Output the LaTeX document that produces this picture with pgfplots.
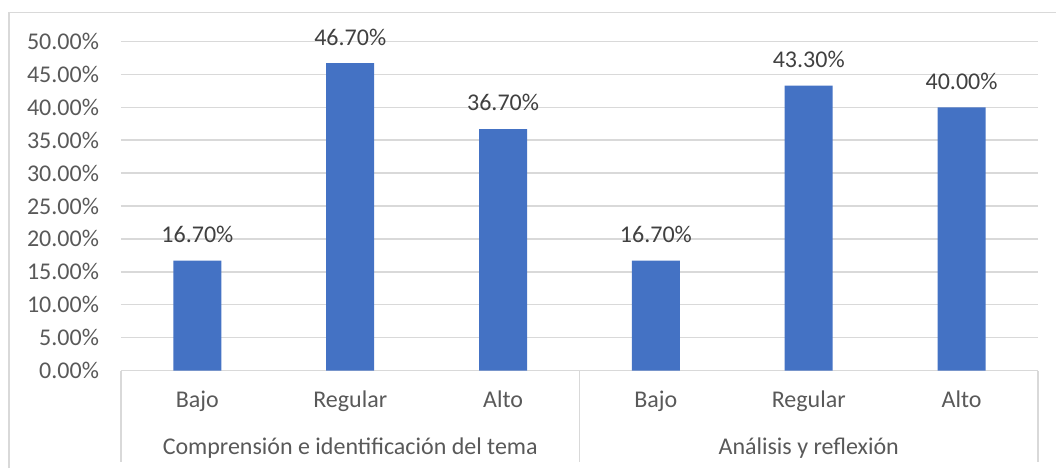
\documentclass[border=0pt]{standalone}
\usepackage{pgfplots}
\pgfplotsset{compat=1.18}
\usepackage{fontspec}
\setmainfont{Carlito}
\definecolor{barblue}{HTML}{4472C4}
\definecolor{gridgray}{HTML}{D9D9D9}
\definecolor{txtgray}{HTML}{595959}
\definecolor{lblgray}{HTML}{404040}
\begin{document}
\begin{tikzpicture}[font=\fontsize{12pt}{14pt}\selectfont]
\useasboundingbox (-60.5pt,-48.75pt) rectangle (467.5pt,185.25pt);
\draw[gridgray, line width=0.6pt] (-56pt,-48.75pt) -- (-56pt,178.9pt) -- (467.5pt,178.9pt);
\begin{axis}[
  at={(0pt,0pt)}, anchor=south west,
  scale only axis, width=458.5pt, height=164.5pt,
  xmin=-0.5, xmax=5.5, ymin=0, ymax=50,
  axis line style={draw=none},
  tick style={draw=none}, major tick length=0pt,
  ytick={0,5,...,50},
  ymajorgrids, grid style={gridgray, line width=0.75pt},
  /pgf/number format/assume math mode=true,
  yticklabel={\pgfmathprintnumber[fixed,fixed zerofill,precision=2]{\tick}\%},
  yticklabel style={text=txtgray, xshift=-7.5pt},
  xtick={0,...,5},
  xticklabels={Bajo,Regular,Alto,Bajo,Regular,Alto},
  xticklabel style={anchor=base, yshift=-18.5pt, text=txtgray},
  ybar, bar width=24pt,
  nodes near coords={\pgfmathprintnumber[fixed,fixed zerofill,precision=2]{\pgfplotspointmeta}\%},
  every node near coord/.append style={text=lblgray, inner sep=0pt, yshift=8.75pt},
  clip=false,
]
\addplot[fill=barblue, draw=none] coordinates {(0,16.7) (1,46.7) (2,36.7) (3,16.7) (4,43.3) (5,40)};
\draw[gridgray, line width=0.75pt] (axis cs:-0.5,0) -- ++(0pt,-45.75pt);
\draw[gridgray, line width=0.75pt] (axis cs:2.5,0) -- ++(0pt,-45.75pt);
\draw[gridgray, line width=0.75pt] (axis cs:5.5,0) -- ++(0pt,-45.75pt);
\node[anchor=base, text=txtgray] at ([yshift=-42pt]axis cs:1,0) {Comprensión e identificación del tema};
\node[anchor=base, text=txtgray] at ([yshift=-42pt]axis cs:4,0) {Análisis y reflexión};
\end{axis}
\end{tikzpicture}
\end{document}
